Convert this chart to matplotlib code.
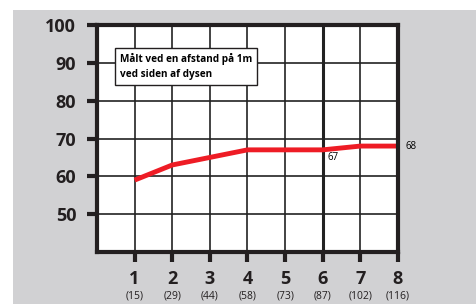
import matplotlib.pyplot as plt
from matplotlib.patches import Rectangle
from matplotlib.transforms import blended_transform_factory

# data
distance = [1, 2, 3, 4, 5, 6, 7, 8]
distance_sub = ["(15)", "(29)", "(44)", "(58)", "(73)", "(87)", "(102)", "(116)"]
level = [59, 63, 65, 67, 67, 67, 68, 68]
y_ticks = [50, 60, 70, 80, 90, 100]

plt.rcParams['font.family'] = ['Open Sans', 'DejaVu Sans']

fig = plt.figure(figsize=(4.77, 3.04), dpi=100)
fig.patch.set_facecolor('white')
fig.patches.append(Rectangle((13 / 477, 0), 464 / 477, 294 / 304,
                             transform=fig.transFigure, facecolor='#d1d1d3',
                             edgecolor='none', zorder=-1))

ax = fig.add_axes([97 / 477, 52 / 304, 301 / 477, 227 / 304])
ax.set_facecolor('white')
ax.set_xlim(0, 8)
ax.set_ylim(40, 100)

# grid
for x in range(1, 8):
    ax.axvline(x, color='#222222', lw=2.2 if x == 6 else 1.2, zorder=1)
for y in [50, 60, 70, 80, 90]:
    ax.axhline(y, color='#222222', lw=1.2, zorder=1)

ax.plot(distance, level, color='#ee1c25', lw=3.5, solid_capstyle='butt', zorder=3)

ax.text(6.12, 66.3, str(level[5]), fontsize=7, ha='left', va='top', zorder=4)
ax.text(8.2, level[7], str(level[7]), fontsize=7, ha='left', va='center',
        clip_on=False)

for s in ax.spines.values():
    s.set_linewidth(3)
    s.set_color('#231f20')
    s.set_zorder(5)

ax.set_yticks(y_ticks)
ax.set_yticklabels([str(v) for v in y_ticks], fontsize=13, fontweight='bold',
                   color='#231f20')
ax.set_xticks(distance)
ax.set_xticklabels([str(v) for v in distance], fontsize=13, fontweight='bold',
                   color='#231f20')
ax.tick_params(axis='both', direction='out', length=7, width=3, color='#231f20')
ax.tick_params(axis='y', pad=8)
ax.tick_params(axis='x', pad=6)

trans = blended_transform_factory(ax.transData, ax.transAxes)
for x, lab in zip(distance, distance_sub):
    ax.text(x, -0.195, lab, transform=trans, fontsize=7.5, ha='center', va='center',
            color='#231f20')

ax.text(0.6, 92.6, "Målt ved en afstand på 1m\nved siden af dysen", fontsize=7.2,
        fontweight='bold', ha='left', va='top', linespacing=1.45, zorder=6,
        bbox=dict(boxstyle='square,pad=0.5', facecolor='white',
                  edgecolor='#231f20', lw=1))

fig.savefig("out.png", dpi=100)
